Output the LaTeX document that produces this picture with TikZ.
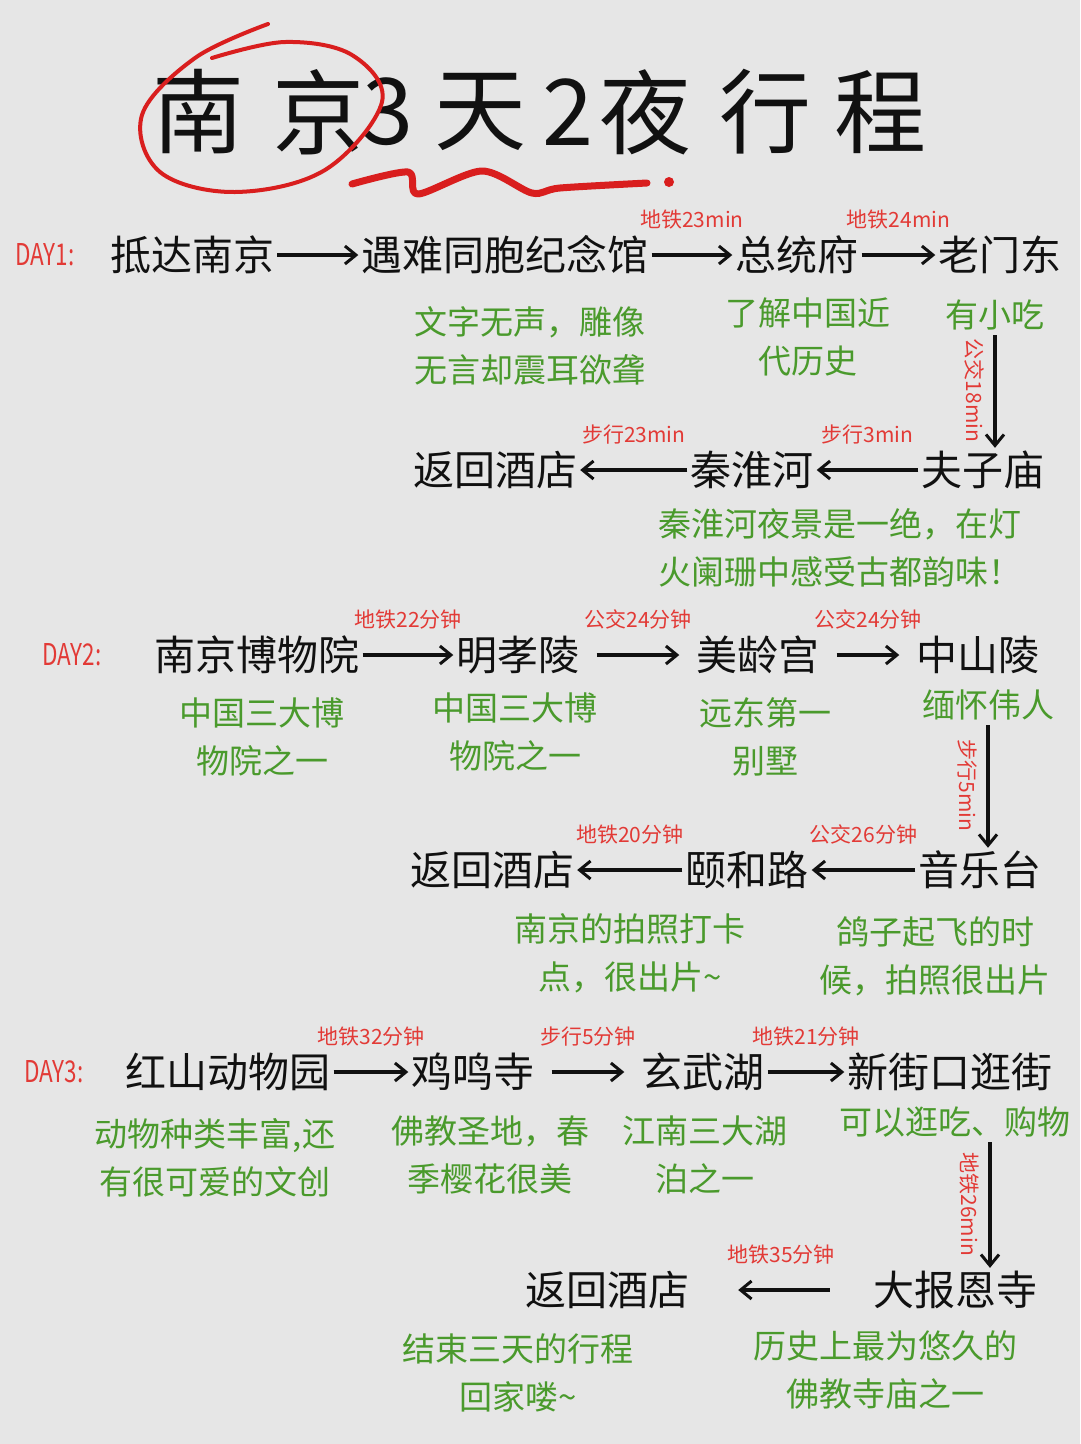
\documentclass[tikz,border=0pt]{standalone}
\usepackage{fontspec}
\usepackage{tikz}
\usetikzlibrary{arrows.meta}
\newfontfamily\cjk{Noto Sans CJK SC}
\definecolor{paperc}{HTML}{E6E6E6}
\definecolor{inkc}{HTML}{111111}
\definecolor{leafc}{HTML}{4A9A2C}
\definecolor{routec}{HTML}{E23A36}
\definecolor{penc}{HTML}{D91E1E}

\begin{document}
\begin{tikzpicture}[x=1pt, y=-1pt,
  spot/.style={inner sep=3pt, text=inkc, font=\cjk\fontsize{41}{49}\selectfont},
  note/.style={inner sep=3pt, text=leafc, align=center, font=\cjk\fontsize{33}{48}\selectfont},
  route/.style={text=routec, inner sep=2pt, above=22pt, font=\cjk\fontsize{21}{25}\selectfont},
  sideroute/.style={text=routec, inner sep=9pt, midway, anchor=north, rotate=-90, font=\cjk\fontsize{21}{25}\selectfont},
  daytag/.style={text=routec, xscale=0.75, font=\cjk\fontsize{30}{36}\selectfont},
  titlech/.style={text=inkc, font=\cjk\fontsize{92}{100}\selectfont},
  go/.style={draw=inkc, line width=3.2pt, -{Straight Barb[length=11pt, width=18pt, line width=3pt]}},
  gap/.style={shorten <=14pt, shorten >=14pt},
  redpen/.style={draw=penc, line width=4pt, line cap=round, line join=round}]
  \fill[paperc] (0,0) rectangle (1080,1444);
  \useasboundingbox (0,0) rectangle (1080,1444);

  \foreach \ch/\x [count=\i] in {南/198, 京/318, 3/388, 天/480, 2/568, 夜/645, 行/765, 程/880}
    \node[titlech] (t\i) at (\x,112) {\ch};
  \draw[redpen] plot[smooth, tension=0.6] coordinates {(268,24) (195,58) (142,115) (160,172) (235,192) (325,170) (382,102) (352,55) (285,42) (212,58)};
  \draw[redpen, line width=7pt] plot[smooth, tension=0.5] coordinates {(352,184) (408,172) (418,194) (482,171) (532,193) (560,188) (647,183)};
  \fill[penc] (669,182) circle (5);

  % day 1
  \node[daytag] (day1) at (45,255) {DAY1:};
  \node[spot] (dnj) at (192,255) {抵达南京};
  \node[spot] (ynt) at (505,255) {遇难同胞纪念馆};
  \node[spot] (zzf) at (797,255) {总统府};
  \node[spot] (lmd) at (1000,255) {老门东};
  \draw[go] (dnj) -- (ynt);
  \draw[go] (ynt) -- node[route] (r12) {地铁23min} (zzf);
  \draw[go] (zzf) -- node[route] (r13) {地铁24min} (lmd);
  \node[note] (d1a) at (530,346) {文字无声，雕像\\无言却震耳欲聋};
  \node[note] (d1b) at (808,337) {了解中国近\\代历史};
  \node[note] (d1c) at (995,315) {有小吃};

  \node[spot] (fhj1) at (495,470) {返回酒店};
  \node[spot] (qhh) at (752,470) {秦淮河};
  \node[spot] (fzm) at (983,470) {夫子庙};
  \draw[go, shorten <=2pt] (d1c.south) -- (d1c.south |- fzm.north) node[sideroute] (r14) {公交18min};
  \draw[go] (fzm) -- node[route] (r15) {步行3min} (qhh);
  \draw[go] (qhh) -- node[route] (r16) {步行23min} (fhj1);
  \node[note, align=left, anchor=west] (d1d) at (655,548) {秦淮河夜景是一绝，在灯\\火阑珊中感受古都韵味！};

  % day 2
  \node[daytag] (day2) at (72,655) {DAY2:};
  \node[spot] (njb) at (257,655) {南京博物院};
  \node[spot] (mxl) at (518,655) {明孝陵};
  \node[spot] (mlg) at (758,655) {美龄宫};
  \node[spot] (zsl) at (978,655) {中山陵};
  \draw[go] (njb) -- node[route] (r21) {地铁22分钟} (mxl);
  \draw[go, gap] (mxl) -- node[route] (r22) {公交24分钟} (mlg);
  \draw[go, gap] (mlg) -- node[route] (r23) {公交24分钟} (zsl);
  \node[note] (d2a) at (262,737) {中国三大博\\物院之一};
  \node[note] (d2b) at (515,732) {中国三大博\\物院之一};
  \node[note] (d2c) at (765,737) {远东第一\\别墅};
  \node[note] (d2d) at (988,705) {缅怀伟人};

  \node[spot] (fhj2) at (492,870) {返回酒店};
  \node[spot] (yhl) at (747,870) {颐和路};
  \node[spot] (ylt) at (980,870) {音乐台};
  \draw[go, shorten <=2pt] (d2d.south) -- (d2d.south |- ylt.north) node[sideroute] (r24) {步行5min};
  \draw[go] (ylt) -- node[route] (r25) {公交26分钟} (yhl);
  \draw[go] (yhl) -- node[route] (r26) {地铁20分钟} (fhj2);
  \node[note] (d2e) at (630,953) {南京的拍照打卡\\点，很出片\textasciitilde};
  \node[note] (d2f) at (935,956) {鸽子起飞的时\\候，拍照很出片};

  % day 3
  \node[daytag] (day3) at (54,1072) {DAY3:};
  \node[spot] (hsd) at (228,1072) {红山动物园};
  \node[spot] (jms) at (473,1072) {鸡鸣寺};
  \node[spot] (xwh) at (703,1072) {玄武湖};
  \node[spot] (xjk) at (950,1072) {新街口逛街};
  \draw[go] (hsd) -- node[route] (r31) {地铁32分钟} (jms);
  \draw[go, gap] (jms) -- node[route] (r32) {步行5分钟} (xwh);
  \draw[go] (xwh) -- node[route] (r33) {地铁21分钟} (xjk);
  \node[note] (d3a) at (215,1158) {动物种类丰富,还\\有很可爱的文创};
  \node[note] (d3b) at (490,1155) {佛教圣地，春\\季樱花很美};
  \node[note] (d3c) at (705,1155) {江南三大湖\\泊之一};
  \node[note] (d3d) at (955,1122) {可以逛吃、购物};

  \node[spot] (fhj3) at (607,1290) {返回酒店};
  \node[spot] (bes) at (955,1290) {大报恩寺};
  \coordinate (v3) at ([xshift=35pt]d3d.south);
  \draw[go, shorten <=2pt] (v3) -- (v3 |- bes.north) node[sideroute] (r34) {地铁26min};
  \draw[go, shorten <=40pt, shorten >=46pt] (bes) -- node[route] (r35) {地铁35分钟} (fhj3);
  \node[note] (d4a) at (518,1373) {结束三天的行程\\回家喽\textasciitilde};
  \node[note] (d4b) at (885,1370) {历史上最为悠久的\\佛教寺庙之一};
\end{tikzpicture}
\end{document}
